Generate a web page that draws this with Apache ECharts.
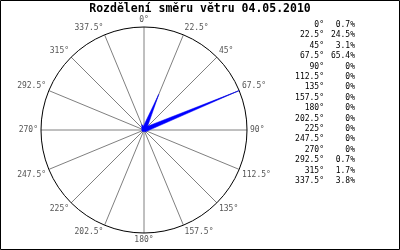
<!DOCTYPE html>
<html><head><meta charset="utf-8">
<script src="https://cdn.jsdelivr.net/npm/echarts@6/dist/echarts.min.js"></script>
<style>html,body{margin:0;padding:0;background:#fff}#c{width:400px;height:250px}</style>
</head><body><div id="c"></div>
<script>
const titleText = 'Rozdělení směru větru 04.05.2010';
const directions = [0,22.5,45,67.5,90,112.5,135,157.5,180,202.5,225,247.5,270,292.5,315,337.5];
const values = [0.7,24.5,3.1,65.4,0,0,0,0,0,0,0,0,0,0.7,1.7,3.8];
const dirLabels = directions.map(d => d + '°');
const pctLabels = values.map(v => v + '%');

const chart = echarts.init(document.getElementById('c'), null, {renderer:'canvas'});
const mono = 'DejaVu Sans Mono';
const legend = [];
dirLabels.forEach((t, i) => {
  legend.push({type:'text', style:{text:t, x:324, y:25 + i*10.4, align:'right', verticalAlign:'middle', font:'8px "' + mono + '"', fill:'#000'}});
  legend.push({type:'text', style:{text:pctLabels[i], x:355, y:25 + i*10.4, align:'right', verticalAlign:'middle', font:'8px "' + mono + '"', fill:'#000'}});
});
legend.push({type:'rect', shape:{x:0.5,y:0.5,width:399,height:249}, style:{fill:'none', stroke:'#000', lineWidth:1}, z:100});

chart.setOption({
  animation:false,
  backgroundColor:'#fff',
  title:{text:titleText, left:'center', top:3, padding:0, textStyle:{fontFamily:mono, fontSize:11.5, fontWeight:'bold', color:'#000'}},
  polar:{center:[144,130], radius:103},
  angleAxis:{type:'value', min:0, max:360, interval:22.5, startAngle:90, clockwise:true,
    axisLine:{lineStyle:{color:'#000', width:1}},
    axisTick:{show:false},
    splitLine:{show:true, lineStyle:{color:'#808080', width:1}},
    axisLabel:{margin:3, color:'#555', fontFamily:mono, fontSize:8, formatter:v => (v >= 360 ? '' : v + '°')}
  },
  radiusAxis:{type:'value', min:0, max:Math.max(...values), axisLine:{show:false}, axisTick:{show:false}, axisLabel:{show:false}, splitLine:{show:false}},
  graphic:legend,
  series:[{
    type:'custom', coordinateSystem:'polar',
    data: directions.map((d,i) => [values[i], d]),
    renderItem:(params, api) => {
      const r = api.value(0), a = api.value(1);
      if (!r) return null;
      const c = api.coord([0, a]);
      const t = api.coord([r, a]);
      const dx = t[0]-c[0], dy = t[1]-c[1];
      const len = Math.sqrt(dx*dx+dy*dy) || 1;
      const px = -dy/len*2.2, py = dx/len*2.2;
      return {type:'polygon', shape:{points:[[c[0]+px,c[1]+py],[t[0],t[1]],[c[0]-px,c[1]-py]]},
        style:{fill:'#0000ff', stroke:'#0000ff', lineWidth:0.5}};
    }
  }]
});
</script></body></html>
